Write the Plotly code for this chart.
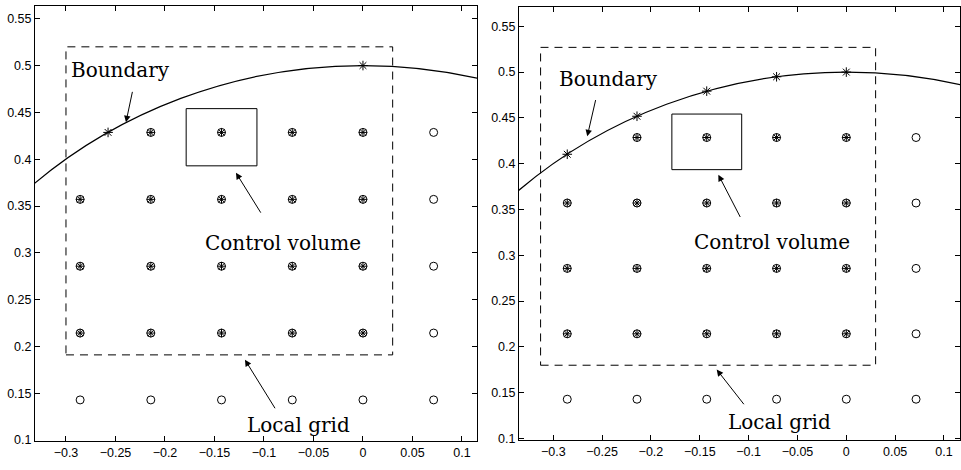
import plotly.graph_objects as go

# ---------------- data ----------------
# all mesh nodes (open circles), identical in both panels
node_x = [-0.2857, -0.2143, -0.1429, -0.0714, 0.0, 0.0714,
          -0.2857, -0.2143, -0.1429, -0.0714, 0.0, 0.0714,
          -0.2857, -0.2143, -0.1429, -0.0714, 0.0, 0.0714,
          -0.2857, -0.2143, -0.1429, -0.0714, 0.0, 0.0714,
          -0.2143, -0.1429, -0.0714, 0.0, 0.0714]
node_y = [0.1429] * 6 + [0.2143] * 6 + [0.2857] * 6 + [0.3571] * 6 + [0.4286] * 5

# local-grid interior nodes (stars inside circles)
local_x = [-0.2857, -0.2143, -0.1429, -0.0714, 0.0,
           -0.2857, -0.2143, -0.1429, -0.0714, 0.0,
           -0.2857, -0.2143, -0.1429, -0.0714, 0.0,
           -0.2143, -0.1429, -0.0714, 0.0]
local_y = [0.2143] * 5 + [0.2857] * 5 + [0.3571] * 5 + [0.4286] * 4

# boundary nodes (stars on the curve)
bnd_left_x = [-0.2575, 0.0]
bnd_left_y = [0.4286, 0.5]
bnd_right_x = [-0.2857, -0.2143, -0.1429, -0.0714, 0.0]
bnd_right_y = [0.4103, 0.4518, 0.4792, 0.4949, 0.5]

boundary_radius = 0.5

# local-grid rectangles  [x0, x1, y0, y1]
local_rect_left = [-0.300, 0.030, 0.191, 0.520]
local_rect_right = [-0.313, 0.030, 0.180, 0.527]
# control volume rectangles
cv_rect_left = [-0.1786, -0.1071, 0.3929, 0.4540]
cv_rect_right = [-0.1786, -0.1071, 0.3935, 0.4542]

x_ticks = [-0.3, -0.25, -0.2, -0.15, -0.1, -0.05, 0, 0.05, 0.1]
x_tick_labels = ["\u22120.3", "\u22120.25", "\u22120.2", "\u22120.15", "\u22120.1",
                 "\u22120.05", "0", "0.05", "0.1"]
y_ticks = [0.1, 0.15, 0.2, 0.25, 0.3, 0.35, 0.4, 0.45, 0.5, 0.55]
y_tick_labels = ["0.1", "0.15", "0.2", "0.25", "0.3", "0.35", "0.4", "0.45", "0.5", "0.55"]

# annotation text: (label, x, y) and arrows: (head_x, head_y, tail_x, tail_y)
labels_left = [("Boundary", -0.2449, 0.4953), ("Control volume", -0.0805, 0.3103),
               ("Local grid", -0.0653, 0.1163)]
arrows_left = [(-0.2394, 0.4395, -0.2326, 0.4735), (-0.1283, 0.3855, -0.1023, 0.3413),
               (-0.1192, 0.1858, -0.0879, 0.1324)]
labels_right = [("Boundary", -0.2437, 0.4926), ("Control volume", -0.0764, 0.3141),
                ("Local grid", -0.0687, 0.1180)]
arrows_right = [(-0.2652, 0.4299, -0.2563, 0.4711), (-0.1310, 0.3880, -0.1078, 0.3402),
                (-0.1327, 0.1753, -0.1037, 0.1358)]

x_range_left = [-0.3313, 0.1152]
y_range_left = [0.0992, 0.5637]
x_range_right = [-0.3351, 0.1164]
y_range_right = [0.0980, 0.5715]

# ---------------- figure ----------------
fig = go.Figure()

panels = [
    ("x", "y", bnd_left_x, bnd_left_y, local_rect_left, cv_rect_left, labels_left, arrows_left),
    ("x2", "y2", bnd_right_x, bnd_right_y, local_rect_right, cv_rect_right, labels_right, arrows_right),
]

shapes = []
annotations = []
for xa, ya, bx, by, lr, cv, labs, arrs in panels:
    fig.add_trace(go.Scatter(x=node_x, y=node_y, mode="markers", xaxis=xa, yaxis=ya,
                             marker=dict(symbol="circle-open", size=8, color="black",
                                         line=dict(width=1, color="black")),
                             showlegend=False, hoverinfo="skip"))
    fig.add_trace(go.Scatter(x=local_x, y=local_y, mode="markers", xaxis=xa, yaxis=ya,
                             marker=dict(symbol="asterisk-open", size=7, color="black",
                                         line=dict(width=1, color="black")),
                             showlegend=False, hoverinfo="skip"))
    fig.add_trace(go.Scatter(x=bx, y=by, mode="markers", xaxis=xa, yaxis=ya,
                             marker=dict(symbol="asterisk-open", size=8, color="black",
                                         line=dict(width=1, color="black")),
                             showlegend=False, hoverinfo="skip"))
    # boundary circle
    shapes.append(dict(type="circle", xref=xa, yref=ya,
                       x0=-boundary_radius, x1=boundary_radius,
                       y0=-boundary_radius, y1=boundary_radius,
                       line=dict(color="black", width=1.2)))
    # local grid dashed rectangle
    shapes.append(dict(type="rect", xref=xa, yref=ya, x0=lr[0], x1=lr[1], y0=lr[2], y1=lr[3],
                       line=dict(color="black", width=1, dash="8px,6px")))
    # control volume
    shapes.append(dict(type="rect", xref=xa, yref=ya, x0=cv[0], x1=cv[1], y0=cv[2], y1=cv[3],
                       line=dict(color="black", width=1)))
    for t, tx, ty in labs:
        annotations.append(dict(text=t, x=tx, y=ty, xref=xa, yref=ya, showarrow=False,
                                font=dict(family="DejaVu Serif", size=20, color="black"),
                                xanchor="center", yanchor="middle"))
    for hx, hy, tx, ty in arrs:
        annotations.append(dict(text="", x=hx, y=hy, ax=tx, ay=ty, xref=xa, yref=ya,
                                axref=xa, ayref=ya, showarrow=True, arrowhead=2,
                                arrowsize=1.3, arrowwidth=1, arrowcolor="black", standoff=0))

axis_common = dict(showgrid=False, zeroline=False, showline=True, linecolor="black",
                   linewidth=1, mirror="ticks", ticks="inside", ticklen=5,
                   tickcolor="black", tickwidth=1,
                   tickfont=dict(family="Liberation Sans, Arial", size=12.5, color="black"))

fig.update_layout(
    width=961, height=470,
    margin=dict(l=0, r=0, t=0, b=0),
    paper_bgcolor="white", plot_bgcolor="white",
    shapes=shapes, annotations=annotations,
    xaxis=dict(domain=[35 / 961, 477 / 961], range=x_range_left, anchor="y",
               tickvals=x_ticks, ticktext=x_tick_labels, **axis_common),
    yaxis=dict(domain=[1 - 447.5 / 470, 1 - 6 / 470], range=y_range_left, anchor="x",
               tickvals=y_ticks, ticktext=y_tick_labels, **axis_common),
    xaxis2=dict(domain=[519 / 961, 960 / 961], range=x_range_right, anchor="y2",
                tickvals=x_ticks, ticktext=x_tick_labels, **axis_common),
    yaxis2=dict(domain=[1 - 447 / 470, 1 - 6.7 / 470], range=y_range_right, anchor="x2",
                tickvals=y_ticks, ticktext=y_tick_labels, **axis_common),
)

fig.write_html("out.html", config={"displayModeBar": False},
               post_script="document.body.style.margin='0';document.body.style.overflow='hidden';")
